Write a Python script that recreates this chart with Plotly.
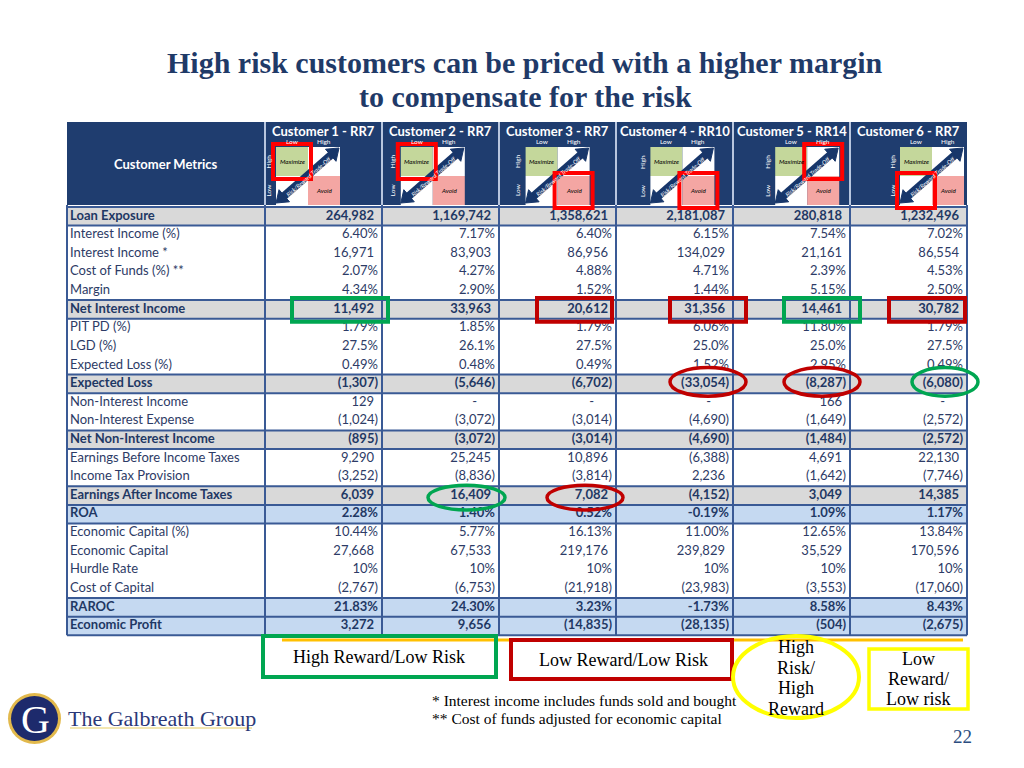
import math
import plotly.graph_objects as go

# ---------------- data ----------------
TITLE_LINES = ["High risk customers can be priced with a higher margin",
               "to compensate for the risk"]
HEADER_LABEL = "Customer Metrics"
customers = ["Customer 1 - RR7", "Customer 2 - RR7", "Customer 3 - RR7",
             "Customer 4 - RR10", "Customer 5 - RR14", "Customer 6 - RR7"]
metrics = ["Loan Exposure", "Interest Income (%)", "Interest Income *",
           "Cost of Funds (%) **", "Margin", "Net Interest Income", "PIT PD (%)",
           "LGD (%)", "Expected Loss (%)", "Expected Loss", "Non-Interest Income",
           "Non-Interest Expense", "Net Non-Interest Income",
           "Earnings Before Income Taxes", "Income Tax Provision",
           "Earnings After Income Taxes", "ROA", "Economic Capital (%)",
           "Economic Capital", "Hurdle Rate", "Cost of Capital", "RAROC",
           "Economic Profit"]
# row category: subtotal rows, return rows, plain rows
row_kind = ["sub", "", "", "", "", "sub", "", "", "", "sub", "", "", "sub", "",
            "", "sub", "ret", "", "", "", "", "ret", "ret"]

cust1 = ["264,982", "6.40%", "16,971", "2.07%", "4.34%", "11,492", "1.79%", "27.5%",
         "0.49%", "(1,307)", "129", "(1,024)", "(895)", "9,290", "(3,252)", "6,039",
         "2.28%", "10.44%", "27,668", "10%", "(2,767)", "21.83%", "3,272"]
cust2 = ["1,169,742", "7.17%", "83,903", "4.27%", "2.90%", "33,963", "1.85%", "26.1%",
         "0.48%", "(5,646)", "-", "(3,072)", "(3,072)", "25,245", "(8,836)", "16,409",
         "1.40%", "5.77%", "67,533", "10%", "(6,753)", "24.30%", "9,656"]
cust3 = ["1,358,621", "6.40%", "86,956", "4.88%", "1.52%", "20,612", "1.79%", "27.5%",
         "0.49%", "(6,702)", "-", "(3,014)", "(3,014)", "10,896", "(3,814)", "7,082",
         "0.52%", "16.13%", "219,176", "10%", "(21,918)", "3.23%", "(14,835)"]
cust4 = ["2,181,087", "6.15%", "134,029", "4.71%", "1.44%", "31,356", "6.06%", "25.0%",
         "1.52%", "(33,054)", "-", "(4,690)", "(4,690)", "(6,388)", "2,236", "(4,152)",
         "-0.19%", "11.00%", "239,829", "10%", "(23,983)", "-1.73%", "(28,135)"]
cust5 = ["280,818", "7.54%", "21,161", "2.39%", "5.15%", "14,461", "11.80%", "25.0%",
         "2.95%", "(8,287)", "166", "(1,649)", "(1,484)", "4,691", "(1,642)", "3,049",
         "1.09%", "12.65%", "35,529", "10%", "(3,553)", "8.58%", "(504)"]
cust6 = ["1,232,496", "7.02%", "86,554", "4.53%", "2.50%", "30,782", "1.79%", "27.5%",
         "0.49%", "(6,080)", "-", "(2,572)", "(2,572)", "22,130", "(7,746)", "14,385",
         "1.17%", "13.84%", "170,596", "10%", "(17,060)", "8.43%", "(2,675)"]
values = [cust1, cust2, cust3, cust4, cust5, cust6]

# risk/reward quadrant of each customer: (row: 0=high reward,1=low ; col: 0=low risk,1=high)
quadrant = [(0, 0), (0, 0), (1, 1), (1, 1), (0, 1), (1, 0)]
matrix_axis = ["Low", "High"]
matrix_words = ["Maximize", "Avoid", "Risk/Reward Trade-Off"]

legend_boxes = ["High Reward/Low Risk", "Low Reward/Low Risk"]
legend_ellipse = ["High", "Risk/", "High", "Reward"]
legend_yellow = ["Low", "Reward/", "Low risk"]
footnotes = ["* Interest income includes funds sold and bought",
             "** Cost of funds adjusted for economic capital"]
company = "The Galbreath Group"
page_no = "22"

# highlight marks on the table: (customer, metric, shape, colour, dx_left, dx_right, dy_top, dy_bottom)
table_marks = [
    (0, "Net Interest Income", "rect", "green", 27, 6, -2, 3),
    (2, "Net Interest Income", "rect", "red", 38, -4, -2, 3),
    (3, "Net Interest Income", "rect", "red", 54, 13, -2, 3),
    (4, "Net Interest Income", "rect", "green", 51, 10, -2, 3),
    (5, "Net Interest Income", "rect", "red", 39, -2, -2, 3),
    (3, "Expected Loss", "circle", "red", 54, 13, -7, 3),
    (4, "Expected Loss", "circle", "red", 51, 10, -7, 3),
    (5, "Expected Loss", "circle", "green", 62, 11, -7, 3),
    (1, "Earnings After Income Taxes", "circle", "green", 46, 6, -1, 5),
    (2, "Earnings After Income Taxes", "circle", "red", 48, 7, -1, 5),
]

# ---------------- layout constants (pixels) ----------------
W, H = 1024, 768
col_edges = [67, 265, 382, 499, 616, 733, 850, 967]
head_top, head_bot = 122, 205
body_top = 207
row_h = 18.62
mat_left0, mat_step, mat_cell_w = 276, 124.8, 32
mat_top, mat_cell_h = 147, 29

NAVY = "#1F3D6F"
ARROW = "#17366A"
TXT = "#2D3B66"
TXT_B = "#1F3864"
GRID = "#3A5A95"
GRAY = "#D9D9D9"
LBLUE = "#C5D9F1"
RED = "#C00000"
GREEN = "#00A651"
YEL = "#FFFF00"
FONT = "Lato"
SERIF = "Liberation Serif"

shapes = []
ann = []


def rect(x0, y0, x1, y1, fill=None, line=None, lw=0, layer="above"):
    shapes.append(dict(type="rect", xref="x", yref="y", x0=x0, y0=y0, x1=x1, y1=y1,
                       fillcolor=fill if fill else "rgba(0,0,0,0)",
                       line=dict(color=line if line else "rgba(0,0,0,0)", width=lw),
                       layer=layer))


def line(x0, y0, x1, y1, color, lw):
    shapes.append(dict(type="line", xref="x", yref="y", x0=x0, y0=y0, x1=x1, y1=y1,
                       line=dict(color=color, width=lw)))


def ellipse(x0, y0, x1, y1, color, lw):
    shapes.append(dict(type="circle", xref="x", yref="y", x0=x0, y0=y0, x1=x1, y1=y1,
                       line=dict(color=color, width=lw), fillcolor="rgba(0,0,0,0)"))


def text(x, y, s, size, color="black", family=FONT, xanchor="center", angle=0):
    ann.append(dict(x=x, y=y, xref="x", yref="y", text=s, showarrow=False,
                    xanchor=xanchor, yanchor="middle", textangle=angle,
                    font=dict(size=size, color=color, family=family)))


def row_top(i):
    return body_top + i * row_h


n_rows = len(metrics)
body_bot = row_top(n_rows)

# title
for k, t in enumerate(TITLE_LINES):
    text(525, 62 + 34 * k, "<b>" + t + "</b>", 30, "#1F3A68", SERIF)

# body row fills
for i, kind in enumerate(row_kind):
    if kind == "sub":
        rect(col_edges[0], row_top(i), col_edges[-1], row_top(i + 1), fill=GRAY, layer="below")
    elif kind == "ret":
        rect(col_edges[0], row_top(i), col_edges[-1], row_top(i + 1), fill=LBLUE, layer="below")

# horizontal lines around shaded rows
hlines = set()
for i, kind in enumerate(row_kind):
    if kind:
        hlines.add(i)
        hlines.add(i + 1)
for i in sorted(hlines):
    line(col_edges[0], row_top(i), col_edges[-1], row_top(i), GRID, 2)

# vertical grid lines of body
for e in col_edges:
    line(e, head_bot, e, body_bot, GRID, 2)

# header block
rect(col_edges[0], head_top, col_edges[-1], head_bot, fill=NAVY)
for e in col_edges[1:-1]:
    line(e, head_top, e, head_bot, "#B8C6DE", 2)
text((col_edges[0] + col_edges[1]) / 2, 164, "<b>" + HEADER_LABEL + "</b>", 13, "white")

# customer headers with risk/reward matrices
for c, name in enumerate(customers):
    cx = (col_edges[c + 1] + col_edges[c + 2]) / 2
    text(cx, 131, "<b>" + name + "</b>", 13, "white")
    L = mat_left0 + mat_step * c
    xs = [L, L + mat_cell_w, L + 2 * mat_cell_w]
    ys = [mat_top, mat_top + mat_cell_h, mat_top + 2 * mat_cell_h]
    fills = [["#C4D79B", "white"], ["white", "#F4A6A3"]]
    for r in range(2):
        for q in range(2):
            rect(xs[q], ys[r], xs[q + 1], ys[r + 1], fill=fills[r][q])
    for q in range(2):
        text((xs[q] + xs[q + 1]) / 2, 141, matrix_axis[q], 6.5, "white")
    text(L - 8, (ys[0] + ys[1]) / 2, matrix_axis[1], 6.5, "white", angle=-90)
    text(L - 8, (ys[1] + ys[2]) / 2, matrix_axis[0], 6.5, "white", angle=-90)
    text((xs[0] + xs[1]) / 2, (ys[0] + ys[1]) / 2, "<i>" + matrix_words[0] + "</i>", 6.3, "black")
    text((xs[1] + xs[2]) / 2, (ys[1] + ys[2]) / 2, "<i>" + matrix_words[1] + "</i>", 6.3, "black")
    # double headed arrow
    p0 = (L, 203)
    p1 = (L + 63, 148)
    dx, dy = p1[0] - p0[0], p1[1] - p0[1]
    ln = math.hypot(dx, dy)
    ux, uy = dx / ln, dy / ln
    nx, ny = -uy, ux
    hl, hw = 11, 8
    a0 = (p0[0] + ux * hl * 0.8, p0[1] + uy * hl * 0.8)
    a1 = (p1[0] - ux * hl * 0.8, p1[1] - uy * hl * 0.8)
    line(a0[0], a0[1], a1[0], a1[1], ARROW, 8)
    for tip, s in ((p1, -1), (p0, 1)):
        bx, by = tip[0] + s * ux * hl, tip[1] + s * uy * hl
        path = "M {:.1f} {:.1f} L {:.1f} {:.1f} L {:.1f} {:.1f} Z".format(
            tip[0], tip[1], bx + nx * hw, by + ny * hw, bx - nx * hw, by - ny * hw)
        shapes.append(dict(type="path", xref="x", yref="y", path=path,
                           fillcolor=ARROW, line=dict(color=ARROW, width=1)))
    ang = math.degrees(math.atan2(dy, dx))
    text((p0[0] + p1[0]) / 2 + 1, (p0[1] + p1[1]) / 2 + 1, "<i>" + matrix_words[2] + "</i>",
         6, "white", angle=ang)
    # red box round chosen quadrant
    r, q = quadrant[c]
    rect(xs[q] - 3, ys[r] - 3, xs[q + 1] + 3, ys[r + 1] + 3, line="#FF0000", lw=4)

# table highlight marks
for (c, m, kind, colr, dl, dr, dt, db) in table_marks:
    i = metrics.index(m)
    x0 = col_edges[c + 1] + dl
    x1 = col_edges[c + 2] + dr
    y0 = row_top(i) + dt
    y1 = row_top(i + 1) + db
    colour = GREEN if colr == "green" else RED
    if kind == "rect":
        rect(x0, y0, x1, y1, line=colour, lw=4)
    else:
        ellipse(x0, y0, x1, y1, colour, 3.5)

# legend area
line(282, 640, 963, 640, "#FFC000", 3)
rect(263, 636, 496, 677, line=GREEN, lw=4)
text(379, 657, legend_boxes[0], 18, "black", SERIF)
rect(511, 640, 732, 679, line=RED, lw=4)
text(623, 660, legend_boxes[1], 18, "black", SERIF)
ellipse(733, 636, 859, 718, YEL, 4)
for k, t in enumerate(legend_ellipse):
    text(796, 647 + 20.5 * k, t, 18, "black", SERIF)
rect(869, 649, 968, 709, line=YEL, lw=3.5)
for k, t in enumerate(legend_yellow):
    text(918, 659 + 20 * k, t, 18, "black", SERIF)
for k, t in enumerate(footnotes):
    text(430, 700 + 18 * k, t, 15.5, "black", SERIF, xanchor="left")
text(962, 736, page_no, 19, "#2B4D80", SERIF)

# logo
shapes.append(dict(type="circle", xref="x", yref="y", x0=8, y0=693, x1=61, y1=744,
                   fillcolor="#E2B94C", line=dict(width=0)))
shapes.append(dict(type="circle", xref="x", yref="y", x0=11, y0=696, x1=58, y1=741,
                   fillcolor="#1D2A6C", line=dict(width=0)))
text(35, 719, "G", 40, "white", SERIF)
line(70, 728, 252, 728, "#F3E6B0", 2)
text(66, 718, company, 22, "#2B3878", SERIF, xanchor="left")

# ---------------- traces: table text ----------------
fig = go.Figure()
centers = [row_top(i) + row_h / 2 for i in range(n_rows)]
label_txt = [("<b>%s</b>" % m) if row_kind[i] else m for i, m in enumerate(metrics)]
label_col = [TXT_B if row_kind[i] else TXT for i in range(n_rows)]
fig.add_trace(go.Scatter(x=[col_edges[0] + 3] * n_rows, y=centers, mode="text",
                         text=label_txt, textposition="middle right",
                         textfont=dict(family=FONT, size=13, color=label_col),
                         hoverinfo="skip"))


def pad(v):
    if v == "-":
        return 22
    if v.endswith(")") or v.endswith("%"):
        return 4
    return 8


for c, col in enumerate(values):
    right = col_edges[c + 2]
    xs = [right - pad(v) for v in col]
    txt = [("<b>%s</b>" % v) if row_kind[i] else v for i, v in enumerate(col)]
    fig.add_trace(go.Scatter(x=xs, y=centers, mode="text", text=txt,
                             textposition="middle left",
                             textfont=dict(family=FONT, size=13, color=label_col),
                             hoverinfo="skip"))

fig.update_layout(
    width=W, height=H, margin=dict(l=0, r=0, t=0, b=0),
    paper_bgcolor="white", plot_bgcolor="white", showlegend=False,
    xaxis=dict(range=[0, W], visible=False, fixedrange=True),
    yaxis=dict(range=[H, 0], visible=False, fixedrange=True),
    shapes=shapes, annotations=ann, hovermode=False,
)
fig.write_html("out.html", config={"displayModeBar": False},
               post_script="document.body.style.margin='0';")
